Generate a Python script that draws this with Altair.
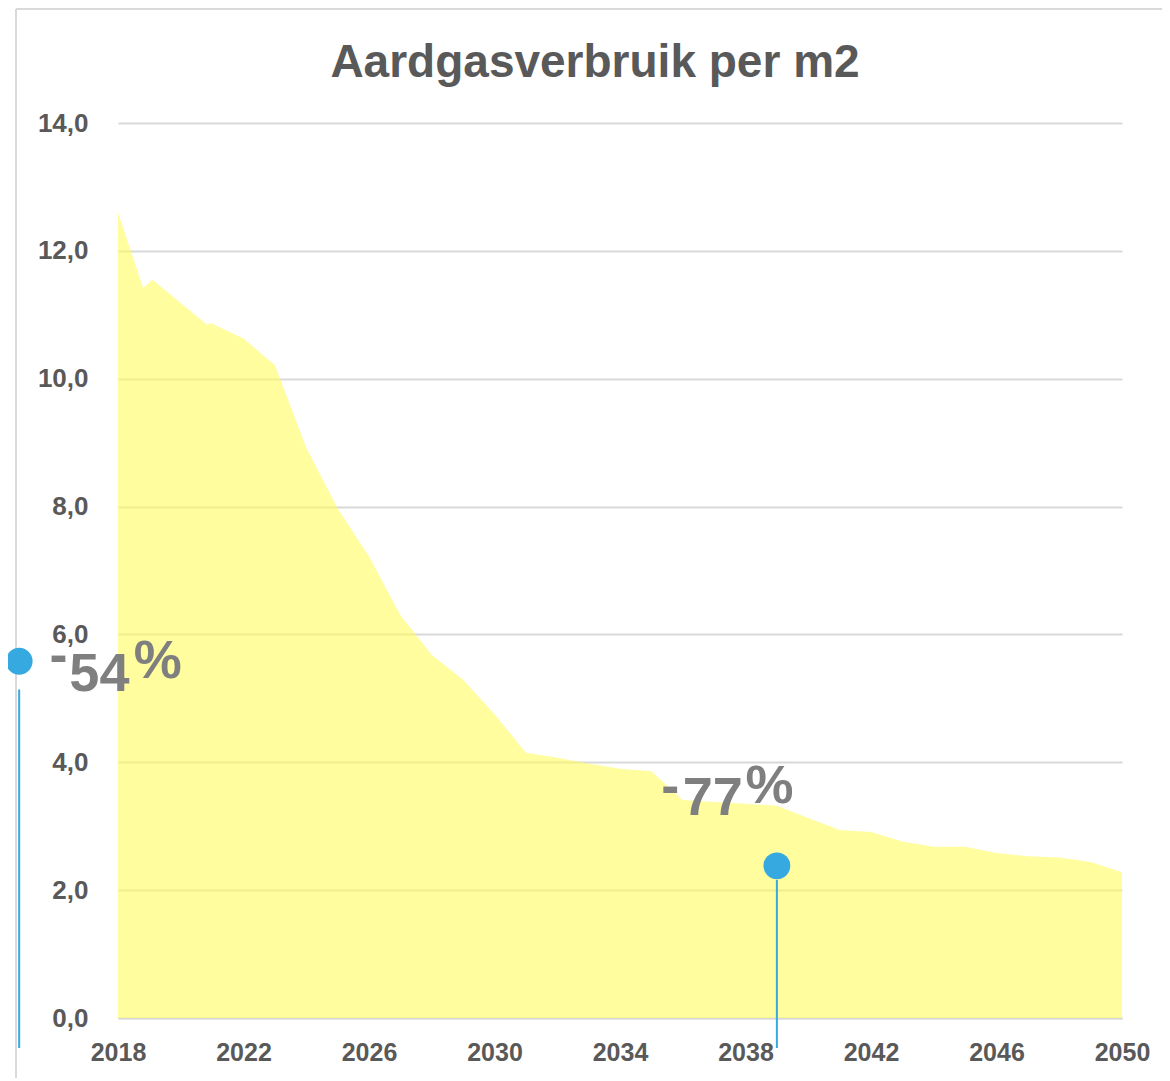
import altair as alt
import pandas as pd

# ---- data ----
years = [2018, 2018.8, 2019.1, 2020.85, 2020.95, 2022, 2023, 2024, 2025, 2026,
         2027, 2028, 2029, 2030, 2031, 2032, 2033, 2034, 2035, 2036,
         2037, 2038, 2039, 2040, 2041, 2042, 2043, 2044, 2045, 2046,
         2047, 2048, 2049, 2050]
gas = [12.6, 11.42, 11.55, 10.84, 10.87, 10.63, 10.21, 8.92, 7.97, 7.22,
       6.30, 5.68, 5.29, 4.75, 4.15, 4.07, 3.98, 3.90, 3.86, 3.41,
       3.38, 3.35, 3.32, 3.13, 2.94, 2.91, 2.76, 2.68, 2.68, 2.58,
       2.53, 2.51, 2.44, 2.28]

x_ticks = [2018, 2022, 2026, 2030, 2034, 2038, 2042, 2046, 2050]
y_ticks = [0, 2, 4, 6, 8, 10, 12, 14]

title_text = ["Aardgasverbruik per m2"]

# annotation markers (blue pins)
pin_year = [2014.85, 2039.0]
pin_value = [5.58, 2.38]
pin_line_top = [5.14, 2.16]
pin_line_bottom = [-0.47, -0.47]

# annotation texts: "-", number, "%"
ann_dash_year = [2016.1, 2035.6]
ann_dash_value = [5.40, 3.35]
ann_num_text = ["54", "77"]
ann_num_year = [2016.45, 2036.0]
ann_num_value = [5.11, 3.18]
ann_pct_year = [2018.5, 2038.0]
ann_pct_value = [5.32, 3.36]

df = pd.DataFrame({"jaar": years, "verbruik": gas})
pins = pd.DataFrame({"jaar": pin_year, "v": pin_value, "top": pin_line_top, "bot": pin_line_bottom})
dash = pd.DataFrame({"jaar": ann_dash_year, "v": ann_dash_value, "t": ["-", "-"]})
nums = pd.DataFrame({"jaar": ann_num_year, "v": ann_num_value, "t": ann_num_text})
pcts = pd.DataFrame({"jaar": ann_pct_year, "v": ann_pct_value, "t": ["%", "%"]})
titles = pd.DataFrame({"t": title_text})

GRAY = "#595959"
BLUE = "#36A9E1"
FONT = "Liberation Sans, Arial, sans-serif"

xscale = alt.Scale(domain=[2018, 2050], nice=False, zero=False)
yscale = alt.Scale(domain=[0, 14], nice=False)

x_enc = alt.X("jaar:Q", scale=xscale, title=None,
              axis=alt.Axis(values=x_ticks, format="d", grid=False, ticks=False,
                            domain=True, domainColor="#D9D9D9", domainWidth=2,
                            labelFont=FONT, labelFontSize=25, labelFontWeight="bold",
                            labelColor=GRAY, labelPadding=22, labelFlush=False))
y_enc = alt.Y("verbruik:Q", scale=yscale, title=None,
              axis=alt.Axis(values=y_ticks, grid=True, gridColor="#D9D9D9", gridWidth=2,
                            ticks=False, domain=False,
                            labelExpr="replace(format(datum.value, '.1f'), '.', ',')",
                            labelFont=FONT, labelFontSize=26, labelFontWeight="bold",
                            labelColor=GRAY, labelPadding=30))

area = alt.Chart(df).mark_area(color="#FFFC5D", opacity=0.6).encode(x=x_enc, y=y_enc)

xs = alt.X("jaar:Q", scale=xscale)
pin_lines = alt.Chart(pins).mark_rule(color=BLUE, strokeWidth=2).encode(
    x=xs, y=alt.Y("top:Q", scale=yscale), y2="bot:Q")
pin_dots = alt.Chart(pins).mark_circle(color=BLUE, opacity=1, size=720).encode(
    x=xs, y=alt.Y("v:Q", scale=yscale))

txt_style = dict(font=FONT, fontWeight="bold", color="#7F7F7F", fontSize=54)
dash_t = alt.Chart(dash).mark_text(align="center", baseline="alphabetic", **txt_style).encode(
    x=xs, y=alt.Y("v:Q", scale=yscale), text="t:N")
num_t = alt.Chart(nums).mark_text(align="left", baseline="alphabetic", **txt_style).encode(
    x=xs, y=alt.Y("v:Q", scale=yscale), text="t:N")
pct_t = alt.Chart(pcts).mark_text(align="left", baseline="alphabetic", **txt_style).encode(
    x=xs, y=alt.Y("v:Q", scale=yscale), text="t:N")

title_t = alt.Chart(titles).mark_text(
    align="center", baseline="alphabetic", font=FONT, fontSize=46, fontWeight="bold", color=GRAY
).encode(x=alt.value(477), y=alt.value(-46), text="t:N")

one = pd.DataFrame({"a": [0]})
frame_top = alt.Chart(one).mark_rule(color="#D9D9D9", strokeWidth=2).encode(
    x=alt.value(-102), x2=alt.value(1080), y=alt.value(-114))
frame_left = alt.Chart(one).mark_rule(color="#D9D9D9", strokeWidth=2).encode(
    x=alt.value(-102), y=alt.value(-114), y2=alt.value(1000))

chart = alt.layer(frame_top, frame_left, area, pin_lines, pin_dots,
                  dash_t, num_t, pct_t, title_t).properties(
    width=1004, height=895,
    padding={"left": 110, "top": 115, "right": 40, "bottom": 60},
    autosize=alt.AutoSizeParams(type="none"),
).configure_view(stroke=None)

chart.save("out.html", embed_options={"renderer": "svg", "actions": False})
